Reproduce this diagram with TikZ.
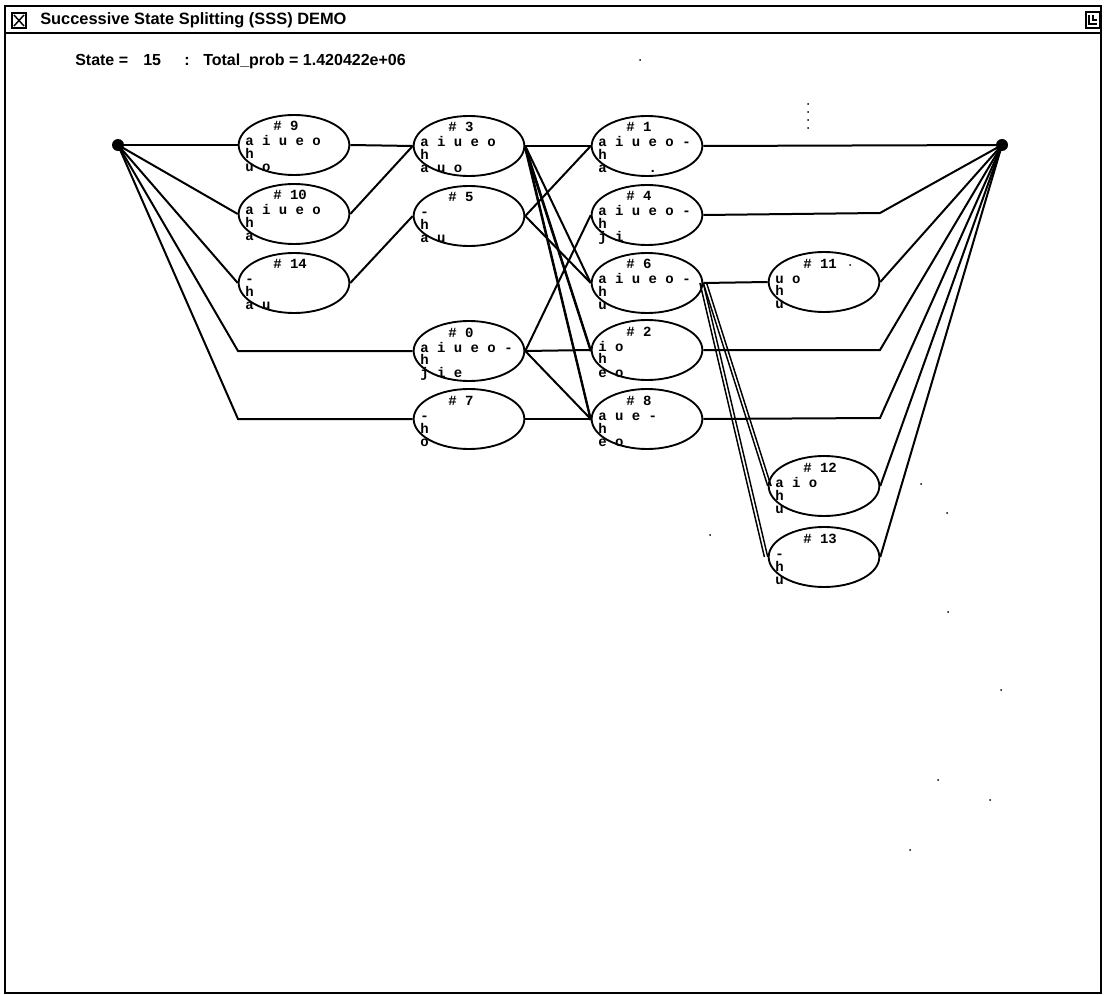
\documentclass[tikz,border=0pt]{standalone}
\usepackage{fontspec}
\setmainfont{Liberation Sans}
\newfontfamily\monofont{Liberation Mono}
\usetikzlibrary{shapes.geometric,calc}
\newcommand\sssnode[5]{%
  \node[st] (s#1) at (#2,#3) {};
  \node[sym] (t#1) at ($(s#1)+(-49,27)$) {\hspace*{21pt}\# #1\\[1.5pt]#4\\h\\#5};
}
\begin{document}
\begin{tikzpicture}[x=0.75pt,y=-0.75pt,
  st/.style={ellipse,draw,line width=1.4pt,minimum width=83pt,minimum height=45pt,inner sep=0pt},
  sym/.style={font=\monofont\fontsize{10.5}{9.75}\selectfont\bfseries,align=left,anchor=base west,inner sep=0pt},
  conn/.style={line width=1.5pt},
  enddot/.style={circle,fill,inner sep=0pt,minimum size=9pt},
  speck/.style={circle,fill,inner sep=0pt,minimum size=1.5pt},
  title/.style={font=\bfseries\fontsize{12.3}{12.3}\selectfont,anchor=base west,inner sep=0pt},
  info/.style={font=\bfseries\fontsize{12}{12}\selectfont,anchor=base west,inner sep=0pt}
]
\fill[white] (0,0) rectangle (1104,995);
\useasboundingbox (0,0) rectangle (1104,995);
% window frame
\draw[line width=1.6pt] (5,6) rectangle (1101,993);
\draw[line width=2pt] (5,33) -- (1101,33);
% title bar icons
\draw[line width=1.1pt] (12,13) rectangle (26,28);
\draw[line width=1.1pt] (14,15) -- (24,26) (24,15) -- (14,26);
\draw[line width=1.1pt] (1086,12) rectangle (1100,28);
\draw[line width=1.1pt] (1089,15) -- (1089,24) -- (1097,24) (1093,15) -- (1093,20) -- (1097,20);
\node[title] (ttl) at (40,25) {Successive State Splitting (SSS) DEMO};
% status line
\node[info] (i1) at (75,66) {State =};
\node[info] (i2) at (143,66) {15};
\node[info] (i3) at (184,66) {:};
\node[info] (i4) at (203,66) {Total\_prob = 1.420422e+06};
% states
\sssnode{9}{294}{145}{a i u e o}{u o}
\sssnode{10}{294}{214}{a i u e o}{a}
\sssnode{14}{294}{283}{-}{a u}
\sssnode{3}{469}{146}{a i u e o}{a u o}
\sssnode{5}{469}{216}{-}{a u}
\sssnode{0}{469}{351}{a i u e o -}{j i e}
\sssnode{7}{469}{419}{-}{o}
\sssnode{1}{647}{146}{a i u e o -}{a~~~~~.}
\sssnode{4}{647}{215}{a i u e o -}{j i}
\sssnode{6}{647}{283}{a i u e o -}{u}
\sssnode{2}{647}{350}{i o}{e o}
\sssnode{8}{647}{419}{a u e -}{e o}
\sssnode{11}{824}{282}{u o}{u}
\sssnode{12}{824}{486}{a i o}{u}
\sssnode{13}{824}{557}{-}{u}
% start / end
\node[enddot] (start) at (118,145) {};
\node[enddot] (end) at (1002,145) {};
\coordinate (k0) at (238,351);
\coordinate (k7) at (238,419);
\coordinate (r4) at (880,213);
\coordinate (r2) at (880,350);
\coordinate (r8) at (880,418);
% connectors from start
\draw[conn] (start.center) -- (s9.west);
\draw[conn] (start.center) -- (s10.west);
\draw[conn] (start.center) -- (s14.west);
\draw[conn] (start.center) -- (k0) -- (s0.west);
\draw[conn] (start.center) -- (k7) -- (s7.west);
% column 1 -> 2
\draw[conn] (s9.east) -- (s3.west);
\draw[conn] (s10.east) -- (s3.west);
\draw[conn] (s14.east) -- (s5.west);
% column 2 -> 3
\draw[conn] (s3.east) -- (s1.west);
\draw[conn] (s3.east) -- (s6.west);
\draw[conn] (s3.east) -- (s2.west);
\draw[conn] ([yshift=-2pt]s3.east) -- ([yshift=-1pt]s2.west);
\draw[conn] (s3.east) -- (s8.west);
\draw[conn] ([yshift=-2pt]s3.east) -- ([yshift=-1pt]s8.west);
\draw[conn] (s5.east) -- (s1.west);
\draw[conn] (s5.east) -- (s6.west);
\draw[conn] (s0.east) -- (s4.west);
\draw[conn] (s0.east) -- (s2.west);
\draw[conn] (s0.east) -- (s8.west);
\draw[conn] (s7.east) -- (s8.west);
% column 3 -> 4
\draw[conn] (s6.east) -- (s11.west);
\draw[line width=1.1pt] (s6.east) -- (s12.west);
\draw[line width=1.1pt] ([xshift=2.5pt]s6.east) -- ([xshift=2.5pt]s12.west);
\draw[line width=1.1pt] (s6.east) -- (s13.west);
\draw[line width=1.1pt] ([xshift=-2.5pt]s6.east) -- ([xshift=-2.5pt]s13.west);
% to end
\draw[conn] (s1.east) -- (end.center);
\draw[conn] (s4.east) -- (r4) -- (end.center);
\draw[conn] (s11.east) -- (end.center);
\draw[conn] (s2.east) -- (r2) -- (end.center);
\draw[conn] (s8.east) -- (r8) -- (end.center);
\draw[conn] (s12.east) -- (end.center);
\draw[conn] (s13.east) -- (end.center);
% scan specks
\foreach \p in {(640,60),(808,104),(808,112),(808,120),(808,128),(710,535),(948,612),(1001,690),(938,780),(990,800),(910,850),(921,484),(947,513),(850,265)}
  \node[speck] at \p {};
\end{tikzpicture}
\end{document}
